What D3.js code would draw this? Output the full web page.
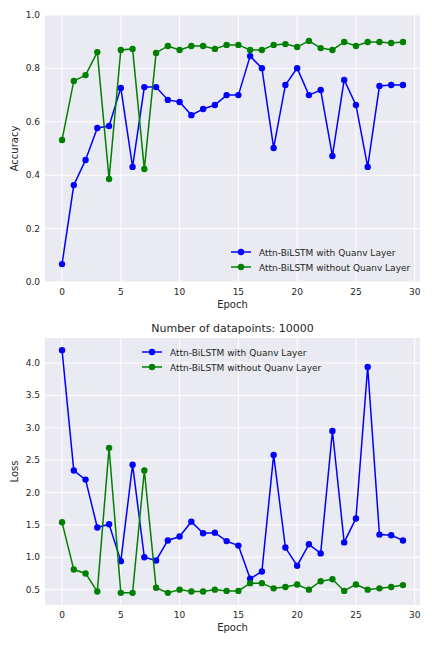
<!DOCTYPE html>
<html><head><meta charset="utf-8">
<script src="https://cdn.jsdelivr.net/npm/d3@7"></script>
<style>body{margin:0;background:#fff}svg{display:block;font-family:"DejaVu Sans",sans-serif}</style>
</head><body><svg id="c" width="432" height="648"></svg>
<script>
const epochs = d3.range(30);
const accQuanv = [0.067,0.363,0.457,0.577,0.584,0.727,0.431,0.730,0.730,0.682,0.674,0.625,0.648,0.663,0.700,0.700,0.846,0.801,0.502,0.738,0.801,0.700,0.719,0.472,0.757,0.663,0.431,0.734,0.738,0.738];
const accNoQuanv = [0.532,0.753,0.775,0.861,0.386,0.869,0.873,0.423,0.858,0.884,0.869,0.884,0.884,0.873,0.888,0.888,0.869,0.869,0.888,0.891,0.880,0.903,0.876,0.869,0.899,0.884,0.899,0.899,0.895,0.899];
const lossQuanv = [4.20,2.34,2.20,1.46,1.51,0.94,2.43,1.00,0.95,1.26,1.32,1.55,1.37,1.38,1.25,1.18,0.67,0.78,2.58,1.15,0.87,1.20,1.06,2.95,1.23,1.60,3.94,1.35,1.34,1.26];
const lossNoQuanv = [1.54,0.81,0.75,0.47,2.69,0.45,0.45,2.34,0.53,0.45,0.50,0.47,0.47,0.50,0.48,0.48,0.60,0.60,0.52,0.54,0.58,0.50,0.63,0.66,0.48,0.58,0.50,0.52,0.54,0.57];
const xTicks = [0,5,10,15,20,25,30];
const accTicks = [0,0.2,0.4,0.6,0.8,1.0];
const lossTicks = [0.5,1.0,1.5,2.0,2.5,3.0,3.5,4.0];
const names = ["Attn-BiLSTM with Quanv Layer","Attn-BiLSTM without Quanv Layer"];
const colors = ["#0000ff","#008000"];

const svg = d3.select("#c");
function panel(top, bottom, yDom, yTicks, yFmt, series, yLabel, legendPos, title){
  const L=45,R=420;
  const x=d3.scaleLinear().domain([-1.45,30.45]).range([L,R]);
  const y=d3.scaleLinear().domain(yDom).range([bottom,top]);
  svg.append("rect").attr("x",L).attr("y",top).attr("width",R-L).attr("height",bottom-top).attr("fill","#eaeaf2");
  const g=svg.append("g");
  xTicks.forEach(t=>g.append("line").attr("x1",x(t)).attr("x2",x(t)).attr("y1",top).attr("y2",bottom).attr("stroke","#fff").attr("stroke-width",1));
  yTicks.forEach(t=>g.append("line").attr("x1",L).attr("x2",R).attr("y1",y(t)).attr("y2",y(t)).attr("stroke","#fff").attr("stroke-width",1));
  xTicks.forEach(t=>g.append("text").attr("x",x(t)).attr("y",bottom+13).attr("text-anchor","middle").attr("font-size",9).attr("fill","#262626").text(t));
  yTicks.forEach(t=>g.append("text").attr("x",L-5).attr("y",y(t)+3).attr("text-anchor","end").attr("font-size",9).attr("fill","#262626").text(yFmt(t)));
  g.append("text").attr("x",(L+R)/2).attr("y",bottom+26).attr("text-anchor","middle").attr("font-size",10).attr("fill","#262626").text("Epoch");
  g.append("text").attr("transform",`translate(18,${(top+bottom)/2}) rotate(-90)`).attr("text-anchor","middle").attr("font-size",10).attr("fill","#262626").text(yLabel);
  if(title) g.append("text").attr("x",(L+R)/2).attr("y",top-6).attr("text-anchor","middle").attr("font-size",11).attr("fill","#262626").text(title);
  const line=d3.line().x((d,i)=>x(epochs[i])).y(d=>y(d));
  series.forEach((s,k)=>{
    g.append("path").datum(s).attr("d",line).attr("fill","none").attr("stroke",colors[k]).attr("stroke-width",1.5);
    g.selectAll(null).data(s).join("circle").attr("cx",(d,i)=>x(epochs[i])).attr("cy",d=>y(d)).attr("r",3.2).attr("fill",colors[k]);
  });
  const [lx,ly]=legendPos;
  names.forEach((n,k)=>{
    const yy=ly+k*15;
    g.append("line").attr("x1",lx).attr("x2",lx+20).attr("y1",yy).attr("y2",yy).attr("stroke",colors[k]).attr("stroke-width",1.5);
    g.append("circle").attr("cx",lx+10).attr("cy",yy).attr("r",3.2).attr("fill",colors[k]);
    g.append("text").attr("x",lx+28).attr("y",yy+3.5).attr("font-size",9).attr("fill","#262626").text(n);
  });
}
panel(15,282,[0,1],accTicks,d3.format(".1f"),[accQuanv,accNoQuanv],"Accuracy",[231,252],null);
panel(338,605,[0.2625,4.3875],lossTicks,d3.format(".1f"),[lossQuanv,lossNoQuanv],"Loss",[142,352],"Number of datapoints: 10000");
</script></body></html>
